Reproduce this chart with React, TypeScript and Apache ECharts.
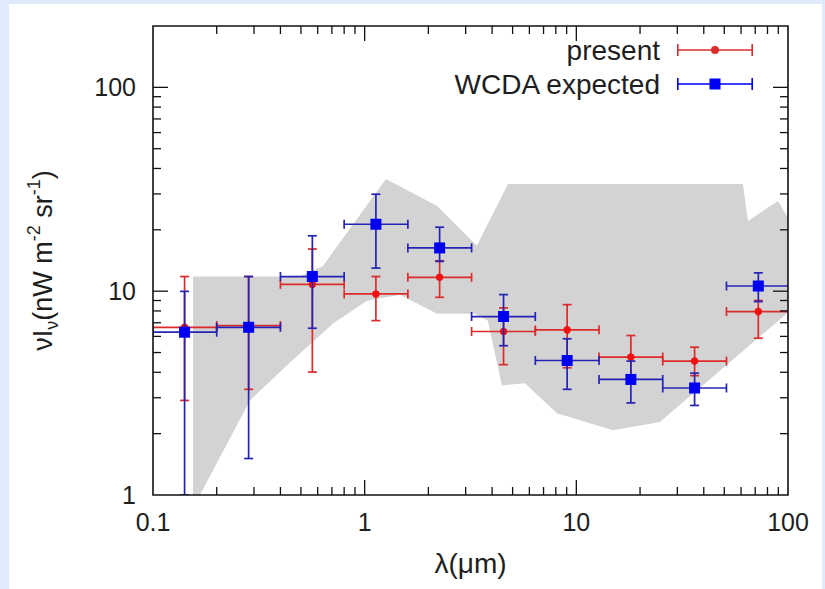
import { useEffect, useRef } from 'react';
import * as echarts from 'echarts';

// ---- axis ranges & ticks ----
const xMin = 0.1;
const xMax = 100;
const yMin = 1;
const yMax = 200;
const xTickLabels = [0.1, 1, 10, 100];
const yTickLabels = [1, 10, 100];
const xMinorTicks = [0.2, 0.3, 0.4, 0.5, 0.6, 0.7, 0.8, 0.9, 2, 3, 4, 5, 6, 7, 8, 9, 20, 30, 40, 50, 60, 70, 80, 90];
const yMinorTicks = [2, 3, 4, 5, 6, 7, 8, 9, 20, 30, 40, 50, 60, 70, 80, 90];

// ---- wavelength bins ----
const binCenters = [0.141, 0.283, 0.566, 1.13, 2.26, 4.53, 9.05, 18.1, 36.2, 72.4];
const binLow = [0.1, 0.2, 0.4, 0.8, 1.6, 3.2, 6.4, 12.8, 25.6, 51.2];
const binHigh = [0.2, 0.4, 0.8, 1.6, 3.2, 6.4, 12.8, 25.6, 51.2, 102.4];

// ---- "present" ----
const presentY = [6.65, 6.78, 10.8, 9.69, 11.7, 6.34, 6.46, 4.75, 4.54, 7.94];
const presentLow = [2.91, 3.3, 4.01, 7.17, 9.33, 4.36, 4.21, 3.5, 3.85, 5.88];
const presentHigh = [11.8, 11.8, 16.1, 11.8, 14.1, 8.28, 8.59, 6.06, 5.31, 9.0];

// ---- "WCDA expected" ----
const wcdaY = [6.29, 6.65, 11.8, 21.3, 16.3, 7.51, 4.57, 3.69, 3.35, 10.6];
const wcdaLow = [1.0, 1.51, 6.58, 12.98, 14.0, 5.4, 3.3, 2.83, 2.75, 8.89];
const wcdaHigh = [9.98, 11.8, 18.7, 29.9, 20.6, 9.62, 5.84, 4.54, 3.96, 12.3];

// ---- grey band (upper edge left->right, lower edge left->right) ----
const bandUpperX = [0.1545, 0.494, 0.635, 1.26, 2.2, 3.39, 4.75, 61.2, 64.7, 89.6, 100];
const bandUpperY = [11.8, 11.8, 13.3, 35.5, 26.2, 16.7, 33.6, 33.6, 22.1, 27.7, 22.9];
const bandLowerX = [0.1545, 0.1667, 0.287, 0.444, 0.709, 1.025, 1.468, 2.2, 3.32, 3.82, 4.45, 5.72, 8.1, 14.9, 24.8, 100];
const bandLowerY = [1.0, 1.0, 2.91, 4.47, 6.94, 8.98, 9.61, 7.76, 7.76, 7.17, 3.45, 3.53, 2.52, 2.08, 2.28, 7.85];

const FONT = "'Liberation Sans', Arial, Helvetica, sans-serif";
const RED_LINE = '#dc2b2b';
const RED_MARK = '#f01010';
const BLUE_LINE = '#2424b4';
const BLUE_MARK = '#0000f2';
const BAND = '#d3d3d3';
const TEXT = '#1e1e1e';

const redIcon =
  'path://M0,0H1.6V12H0Z M74.4,0H76V12H74.4Z M0,5.2H76V6.8H0Z M34,6A4,4 0 1 1 42,6A4,4 0 1 1 34,6Z';
const blueIcon =
  'path://M0,0H1.6V12H0Z M74.4,0H76V12H74.4Z M0,5.2H76V6.8H0Z M32.5,0.5H43.5V11.5H32.5Z';

function nearestLabel(v: number, labels: number[]) {
  const l = labels.find((t) => Math.abs(Math.log10(t) - Math.log10(v)) < 1e-6);
  return l === undefined ? '' : String(l);
}

function errorRenderer(lineColor: string, markColor: string, marker: 'circle' | 'square') {
  return (_params: any, api: any) => {
    const x = api.value(0);
    const y = api.value(1);
    const xl = api.value(2);
    const xh = api.value(3);
    const yl = api.value(4);
    const yh = api.value(5);
    const c = api.coord([x, y]);
    const pxl = api.coord([xl, y])[0];
    const pxh = api.coord([xh, y])[0];
    const pyl = api.coord([x, yl])[1];
    const pyh = api.coord([x, yh])[1];
    const cap = 4.5;
    const ls = { stroke: lineColor, lineWidth: 1.7 };
    const children: any[] = [
      { type: 'line', shape: { x1: pxl, y1: c[1], x2: pxh, y2: c[1] }, style: ls },
      { type: 'line', shape: { x1: c[0], y1: pyl, x2: c[0], y2: pyh }, style: ls },
      { type: 'line', shape: { x1: pxl, y1: c[1] - cap, x2: pxl, y2: c[1] + cap }, style: ls },
      { type: 'line', shape: { x1: pxh, y1: c[1] - cap, x2: pxh, y2: c[1] + cap }, style: ls },
      { type: 'line', shape: { x1: c[0] - cap, y1: pyl, x2: c[0] + cap, y2: pyl }, style: ls },
      { type: 'line', shape: { x1: c[0] - cap, y1: pyh, x2: c[0] + cap, y2: pyh }, style: ls },
    ];
    if (marker === 'circle') {
      children.push({ type: 'circle', shape: { cx: c[0], cy: c[1], r: 3.8 }, style: { fill: markColor } });
    } else {
      children.push({ type: 'rect', shape: { x: c[0] - 5.5, y: c[1] - 5.5, width: 11, height: 11 }, style: { fill: markColor } });
    }
    return { type: 'group', children };
  };
}

export default function App() {
  const ref = useRef<HTMLDivElement>(null);

  useEffect(() => {
    const chart = echarts.init(ref.current!, null, { renderer: 'svg' });

    const presentData = binCenters.map((x, i) => [x, presentY[i], binLow[i], binHigh[i], presentLow[i], presentHigh[i]]);
    const wcdaData = binCenters.map((x, i) => [x, wcdaY[i], binLow[i], binHigh[i], wcdaLow[i], wcdaHigh[i]]);

    const bandPoints: number[][] = [];
    bandUpperX.forEach((x, i) => bandPoints.push([x, bandUpperY[i]]));
    for (let i = bandLowerX.length - 1; i >= 0; i--) bandPoints.push([bandLowerX[i], bandLowerY[i]]);

    const xMajor = xTickLabels.filter((v) => v > xMin && v < xMax);
    const yMajor = yTickLabels.filter((v) => v > yMin && v < yMax);
    const tickData: number[][] = [
      ...xMajor.map((v) => [v, yMin, 0, 1]),
      ...xMinorTicks.map((v) => [v, yMin, 0, 0]),
      ...yMajor.map((v) => [xMin, v, 1, 1]),
      ...yMinorTicks.map((v) => [xMin, v, 1, 0]),
    ];

    const legendBase = {
      orient: 'vertical',
      align: 'right',
      right: 72,
      padding: 0,
      itemWidth: 76,
      itemHeight: 12,
      selectedMode: false,
      itemStyle: { borderWidth: 0 },
      textStyle: { fontSize: 28, color: TEXT, fontFamily: FONT, padding: [0, 12, 0, 0] },
    };

    const option: any = {
      animation: false,
      backgroundColor: 'transparent',
      textStyle: { fontFamily: FONT },
      grid: { left: 153, right: 37, top: 26, bottom: 94, show: false },
      legend: [
        { ...legendBase, data: [{ name: 'present', icon: redIcon }], top: 36 },
        { ...legendBase, data: [{ name: 'WCDA expected', icon: blueIcon }], top: 70 },
      ],
      xAxis: {
        type: 'log',
        logBase: 10,
        min: xMin,
        max: xMax,
        axisLine: { show: false },
        axisTick: { show: false },
        splitLine: { show: false },
        axisLabel: {
          fontSize: 25,
          color: TEXT,
          fontFamily: FONT,
          margin: 14,
          formatter: (v: number) => nearestLabel(v, xTickLabels),
        },
        name: 'λ(μm)',
        nameLocation: 'middle',
        nameGap: 54,
        nameTextStyle: { fontSize: 28, color: TEXT, fontFamily: FONT },
      },
      yAxis: {
        type: 'log',
        logBase: 10,
        min: yMin,
        max: yMax,
        axisLine: { show: false },
        axisTick: { show: false },
        splitLine: { show: false },
        axisLabel: {
          fontSize: 25,
          color: TEXT,
          fontFamily: FONT,
          margin: 17,
          showMaxLabel: false,
          formatter: (v: number) => nearestLabel(v, yTickLabels),
        },
        name: '{a|νI}{sub|ν}{a|(nW m}{sup|-2}{a| sr}{sup|-1}{a|)}',
        nameLocation: 'middle',
        nameRotate: 90,
        nameGap: 92,
        nameTextStyle: {
          color: TEXT,
          fontFamily: FONT,
          rich: {
            a: { fontSize: 27, lineHeight: 36, color: TEXT, fontFamily: FONT },
            sup: { fontSize: 18, lineHeight: 17, verticalAlign: 'top', color: TEXT, fontFamily: FONT },
            sub: { fontSize: 18, lineHeight: 17, verticalAlign: 'bottom', color: TEXT, fontFamily: FONT },
          },
        },
      },
      series: [
        {
          name: 'band',
          type: 'custom',
          z: 1,
          clip: true,
          encode: { x: 0, y: 1 },
          data: [bandPoints[0]],
          silent: true,
          renderItem: (_p: any, api: any) => ({
            type: 'polygon',
            shape: { points: bandPoints.map((p) => api.coord(p)) },
            style: { fill: BAND },
          }),
        },
        {
          name: 'present',
          type: 'custom',
          z: 3,
          clip: true,
          itemStyle: { color: RED_LINE },
          encode: { x: 0, y: 1 },
          data: presentData,
          renderItem: errorRenderer(RED_LINE, RED_MARK, 'circle'),
        },
        {
          name: 'WCDA expected',
          type: 'custom',
          z: 4,
          clip: true,
          itemStyle: { color: BLUE_MARK },
          encode: { x: 0, y: 1 },
          data: wcdaData,
          renderItem: errorRenderer(BLUE_LINE, BLUE_MARK, 'square'),
        },
        {
          name: 'ticks',
          type: 'custom',
          z: 5,
          silent: true,
          encode: { x: 0, y: 1 },
          data: tickData,
          renderItem: (_p: any, api: any) => {
            const v0 = api.value(0);
            const v1 = api.value(1);
            const axis = api.value(2);
            const len = api.value(3) ? 15 : 8;
            const ls = { stroke: '#111', lineWidth: 1.3 };
            if (axis === 0) {
              const px = api.coord([v0, yMin])[0];
              const bottom = api.coord([v0, yMin])[1];
              const top = api.coord([v0, yMax])[1];
              return {
                type: 'group',
                children: [
                  { type: 'line', shape: { x1: px, y1: bottom, x2: px, y2: bottom - len }, style: ls },
                  { type: 'line', shape: { x1: px, y1: top, x2: px, y2: top + len }, style: ls },
                ],
              };
            }
            const py = api.coord([xMin, v1])[1];
            const left = api.coord([xMin, v1])[0];
            const right = api.coord([xMax, v1])[0];
            return {
              type: 'group',
              children: [
                { type: 'line', shape: { x1: left, y1: py, x2: left + len, y2: py }, style: ls },
                { type: 'line', shape: { x1: right, y1: py, x2: right - len, y2: py }, style: ls },
              ],
            };
          },
        },
        {
          name: 'frame',
          type: 'custom',
          z: 6,
          silent: true,
          encode: { x: 0, y: 1 },
          data: [[xMin, yMin]],
          renderItem: (_p: any, api: any) => {
            const a = api.coord([xMin, yMin]);
            const b = api.coord([xMax, yMax]);
            return {
              type: 'rect',
              shape: { x: a[0], y: b[1], width: b[0] - a[0], height: a[1] - b[1] },
              style: { fill: 'none', stroke: '#111', lineWidth: 1.6 },
            };
          },
        },
      ],
    };

    chart.setOption(option);
    return () => chart.dispose();
  }, []);

  return (
    <div style={{ position: 'fixed', left: 0, top: 0, width: 825, height: 589, background: '#dfebfa', overflow: 'hidden' }}>
      <div style={{ position: 'absolute', left: 9, top: 4, width: 813, height: 585, background: '#ffffff' }} />
      <div ref={ref} style={{ position: 'absolute', left: 0, top: 0, width: 825, height: 589 }} />
    </div>
  );
}
